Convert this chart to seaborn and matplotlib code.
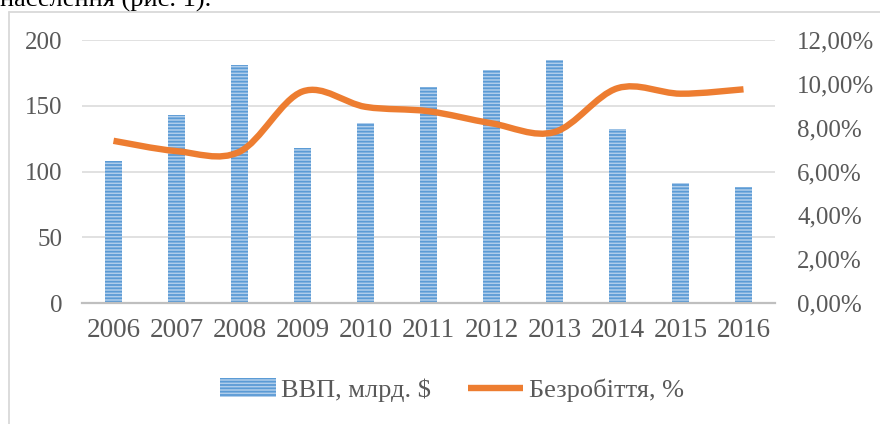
import numpy as np
import matplotlib
matplotlib.use("Agg")
import matplotlib.pyplot as plt
import seaborn as sns
from matplotlib.path import Path
from matplotlib.patches import PathPatch, Patch
from matplotlib.lines import Line2D
from matplotlib.ticker import FuncFormatter

years = ["2006", "2007", "2008", "2009", "2010", "2011", "2012", "2013", "2014", "2015", "2016"]
gdp = [108, 143, 181, 118, 137, 164, 177, 185, 132, 91, 88]           # ВВП, млрд. $
unemployment = [7.40, 6.93, 6.90, 9.65, 8.95, 8.75, 8.20, 7.80, 9.80, 9.55, 9.75]  # Безробіття, %

bar_face = "#AFCDEB"
bar_stripe = "#5B9BD5"
line_col = "#ED7D31"
txt_col = "#595959"
grid_col = "#D9D9D9"


def smooth_path(xs, ys):
    # excel-like smoothed line: bezier segments through the data points
    pts = np.column_stack([xs, ys])
    n = len(pts)
    verts = [tuple(pts[0])]
    codes = [Path.MOVETO]
    for i in range(n - 1):
        p0 = pts[max(i - 1, 0)]
        p1 = pts[i]
        p2 = pts[i + 1]
        p3 = pts[min(i + 2, n - 1)]
        c1 = p1 + (p2 - p0) / 6
        c2 = p2 - (p3 - p1) / 6
        verts += [tuple(c1), tuple(c2), tuple(p2)]
        codes += [Path.CURVE4] * 3
    return Path(verts, codes)


def main():
    sns.set_theme(style="white")
    plt.rcParams["font.family"] = ["Liberation Serif", "DejaVu Serif"]
    plt.rcParams["hatch.linewidth"] = 1.3

    fig = plt.figure(figsize=(8.8, 4.24), dpi=100)
    ax = fig.add_axes([82 / 880, 1 - 303 / 424, (775 - 82) / 880, (303 - 40) / 424])

    sns.barplot(x=years, y=gdp, color=bar_face, saturation=1, width=0.28, ax=ax)
    for p in ax.patches:
        p.set_hatch("-----")
        p.set_edgecolor(bar_stripe)
        p.set_linewidth(0)

    ax.set_xlim(-0.5, len(years) - 0.5)
    ax.set_ylim(0, 200)
    ax.set_yticks([0, 50, 100, 150, 200])
    ax.set_axisbelow(True)
    ax.yaxis.grid(True, color=grid_col, lw=1.1)
    ax.set_xlabel("")
    ax.set_ylabel("")
    for s in ["top", "left", "right"]:
        ax.spines[s].set_visible(False)
    ax.spines["bottom"].set_color("#BFBFBF")
    ax.spines["bottom"].set_linewidth(1.6)
    ax.tick_params(axis="y", length=0, pad=14, labelsize=18, labelcolor=txt_col)
    ax.tick_params(axis="x", length=0, pad=11, labelsize=19.5, labelcolor=txt_col)

    ax2 = ax.twinx()
    xs = np.arange(len(years))
    ys = np.array(unemployment) / 100
    ax2.add_patch(PathPatch(smooth_path(xs, ys), fill=False, edgecolor=line_col,
                            lw=4.6, capstyle="butt", joinstyle="round"))
    ax2.set_ylim(0, 0.12)
    ax2.set_yticks(np.arange(0, 0.121, 0.02))
    ax2.yaxis.set_major_formatter(FuncFormatter(lambda v, _: f"{v * 100:.2f}%".replace(".", ",")))
    for s in ["top", "left", "right", "bottom"]:
        ax2.spines[s].set_visible(False)
    ax2.tick_params(axis="y", length=0, pad=16, labelsize=18, labelcolor=txt_col)
    ax2.grid(False)

    handles = [
        Patch(facecolor=bar_face, edgecolor=bar_stripe, hatch="-----", linewidth=0),
        Line2D([0], [0], color=line_col, lw=4.6, solid_capstyle="butt"),
    ]
    fig.legend(handles, ["ВВП, млрд. $", "Безробіття, %"], loc="center",
               bbox_to_anchor=(452 / 880, 1 - 390 / 424), ncol=2, frameon=False,
               fontsize=19, handlelength=2.1, handletextpad=0.2, columnspacing=1.4,
               labelcolor=txt_col)

    # chart frame (cut off on the right and bottom) and the cropped line of text above
    fig.add_artist(Line2D([8.5 / 880, 8.5 / 880], [0, 1 - 11.5 / 424], color=grid_col, lw=1.3))
    fig.add_artist(Line2D([8.5 / 880, 1], [1 - 11.5 / 424, 1 - 11.5 / 424], color=grid_col, lw=1.3))
    fig.text(0, 1 - 7 / 424, "населення (рис. 1).", fontsize=19, color="black", va="baseline")

    fig.savefig("out.png", dpi=100)


if __name__ == "__main__":
    main()
